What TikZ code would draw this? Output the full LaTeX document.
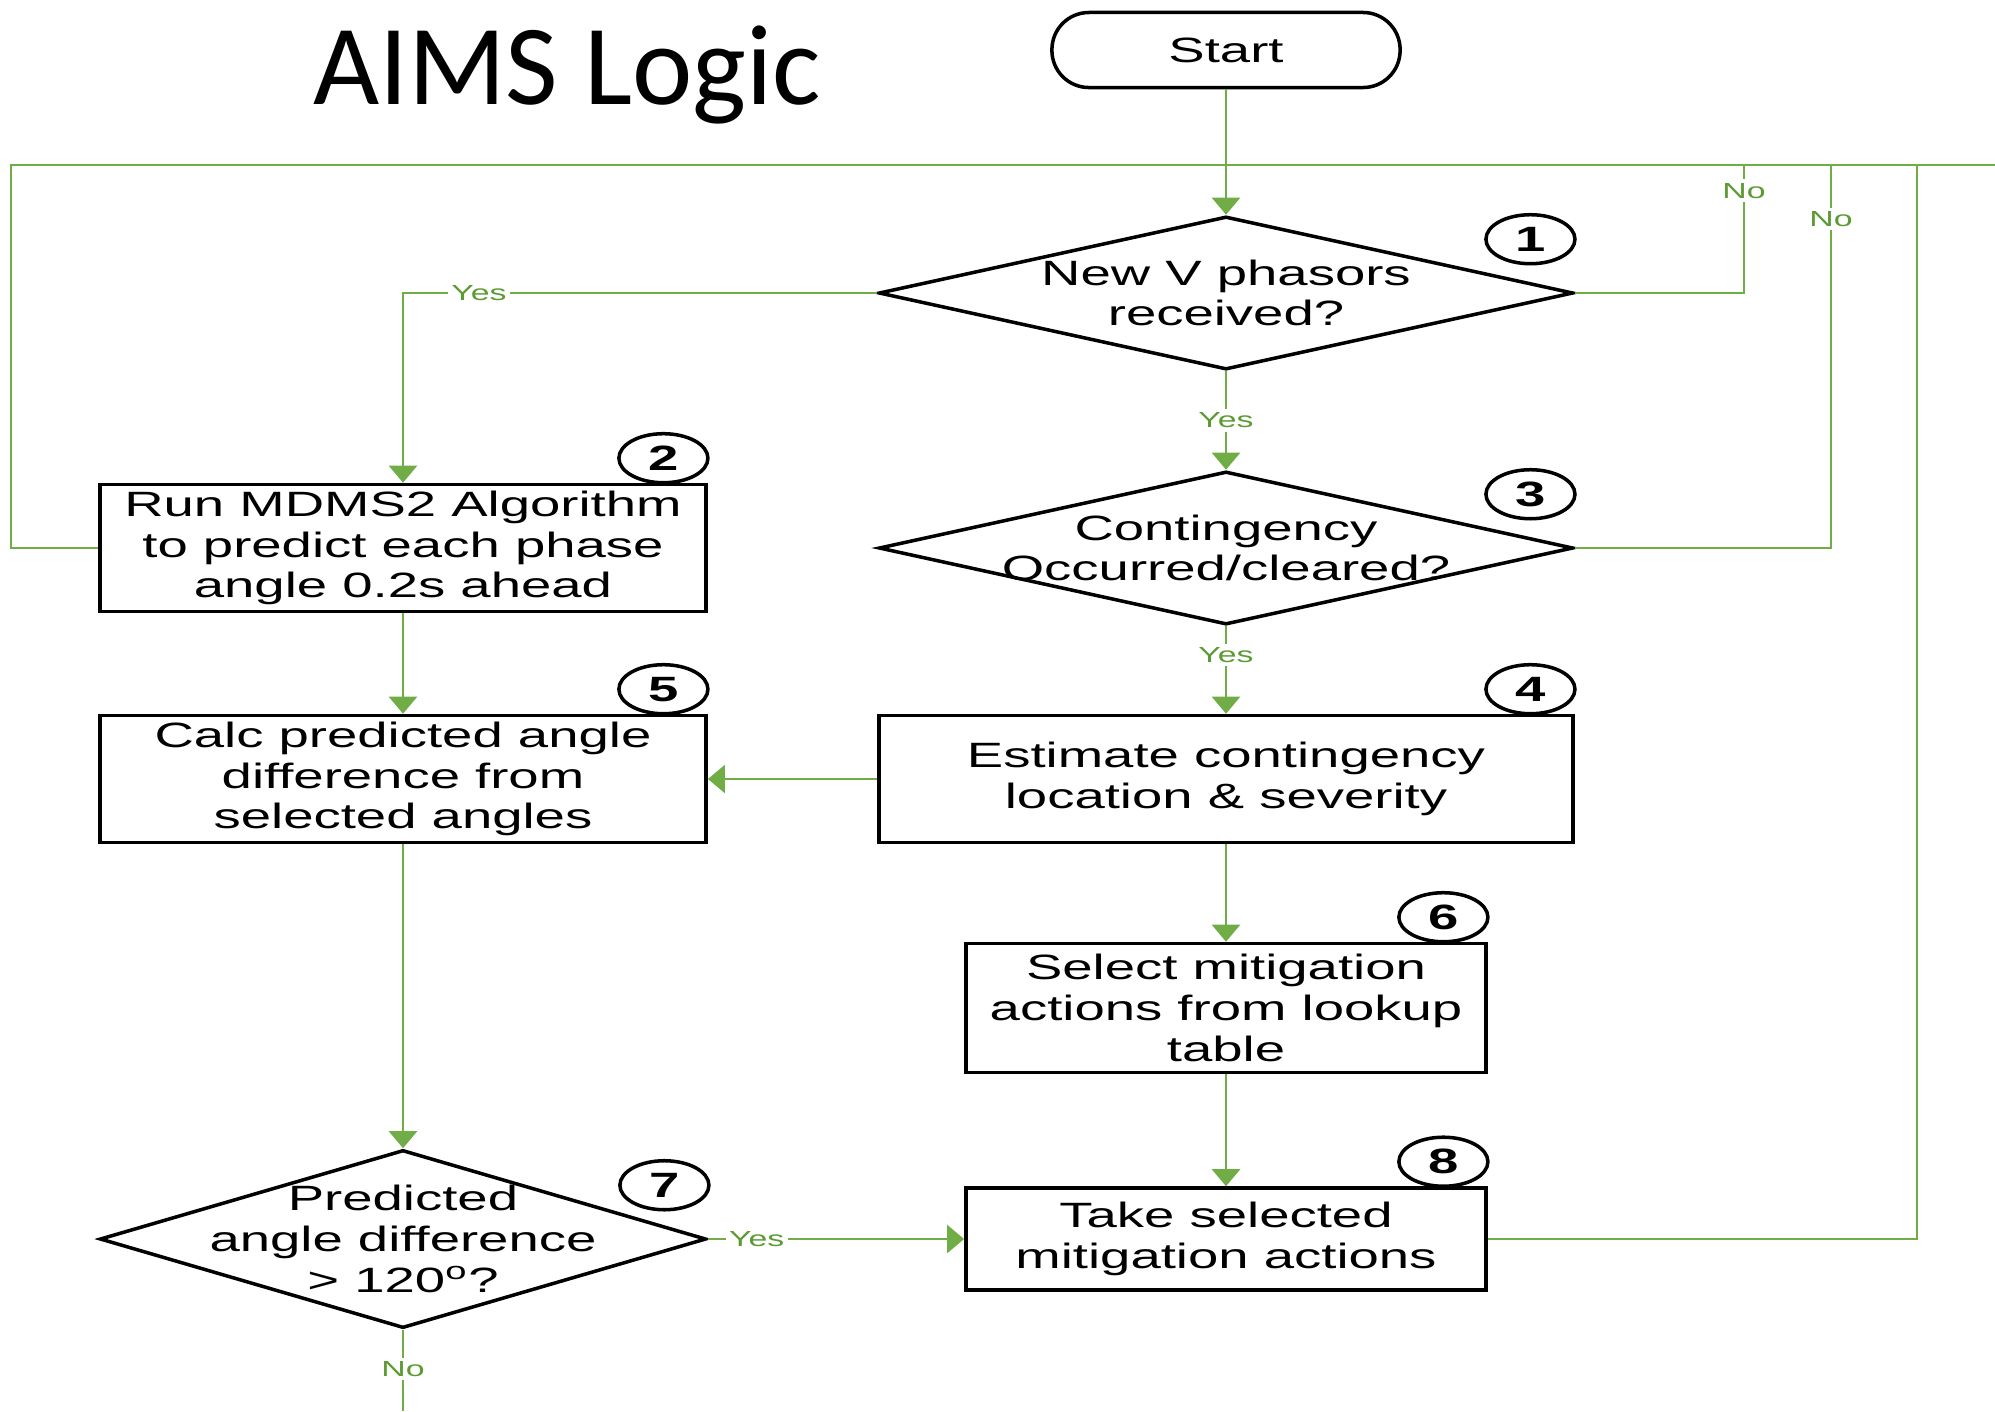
\documentclass[tikz,border=0pt]{standalone}
\usepackage{fontspec}
\setmainfont[FakeStretch=1.55]{Liberation Sans}
\newfontfamily\titlefont{Carlito}
\usetikzlibrary{shapes.geometric,arrows.meta,positioning}
\definecolor{aimsgreen}{HTML}{70AD47}
\definecolor{labgreen}{HTML}{5C9A33}

\begin{document}
\begin{tikzpicture}[x=0.01cm,y=-0.01cm,
  terminal/.style={draw,line width=1pt,inner sep=0pt,rounded corners=0.37cm,font=\fontsize{10}{11.6}\selectfont},
  box/.style={draw,line width=1pt,inner sep=0pt,align=center,font=\fontsize{10}{11.6}\selectfont,execute at begin node={\rule{0pt}{9.5pt}}},
  decision/.style={draw,diamond,line width=1pt,inner sep=0pt},
  dtext/.style={align=center,inner sep=0pt,font=\fontsize{10}{11.6}\selectfont},
  num/.style={draw,ellipse,fill=white,line width=1pt,minimum width=0.89cm,minimum height=0.49cm,inner sep=0pt,font=\bfseries\fontsize{10}{10}\selectfont},
  line/.style={draw=aimsgreen,line width=0.7pt},
  flow/.style={line,-{Triangle[width=0.28cm,length=0.17cm]}},
  lbl/.style={fill=white,inner sep=1pt,text=labgreen,font=\fontsize{6.2}{7}\selectfont}]

\useasboundingbox (0,0) rectangle (1995,1411);

% title
\node[anchor=base,inner sep=0pt,font=\titlefont\fontsize{32.5}{40}\selectfont] (title) at (567,104) {AIMS Logic};

% start and first column
\node[terminal,minimum width=3.48cm,minimum height=0.75cm] (start) at (1226,50) {Start};

\node[decision,minimum width=6.94cm,minimum height=1.53cm] (q1) at (1226,293) {};
\node[dtext] (t1) at (q1) {New V phasors\\received?};

\node[decision,minimum width=6.94cm,minimum height=1.53cm] (q3) at (1226,548) {};
\node[dtext] (t3) at (q3) {Contingency\\Occurred/cleared?};

\node[box,minimum width=6.94cm,minimum height=1.27cm] (b4) at (1226,779) {Estimate contingency\\location \& severity};

\node[box,minimum width=5.2cm,minimum height=1.29cm] (b6) at (1226,1008) {Select mitigation\\actions from lookup\\table};

\node[box,minimum width=5.2cm,minimum height=1.02cm] (b8) at (1226,1239) {Take selected\\mitigation actions};

% left column
\node[box,minimum width=6.06cm,minimum height=1.27cm] (b2) at (403,548) {Run MDMS2 Algorithm\\to predict each phase\\angle 0.2s ahead};

\node[box,minimum width=6.06cm,minimum height=1.27cm] (b5) at (403,779) {Calc predicted angle\\difference from\\selected angles};

\node[decision,minimum width=6.06cm,minimum height=1.78cm] (q7) at (403,1239) {};
\node[dtext] (t7) at (q7) {Predicted\\angle difference\\> 120\textsuperscript{o}?};

% step numbers
\node[num,xshift=-0.445cm,yshift=-0.245cm] (n1) at (q1.east |- q1.north) {1};
\node[num,xshift=-0.445cm,yshift=0.245cm] (n2) at (b2.north east) {2};
\node[num,xshift=-0.445cm,yshift=-0.245cm] (n3) at (q3.east |- q3.north) {3};
\node[num,xshift=-0.445cm,yshift=0.245cm] (n4) at (b4.north east) {4};
\node[num,xshift=-0.445cm,yshift=0.245cm] (n5) at (b5.north east) {5};
\node[num,xshift=-0.445cm,yshift=0.245cm] (n6) at (b6.north east) {6};
\node[num,xshift=-0.435cm,yshift=-0.37cm] (n7) at (q7.east |- q7.north) {7};
\node[num,xshift=-0.445cm,yshift=0.245cm] (n8) at (b8.north east) {8};

% loop back line
\coordinate (loopL) at (11,165);
\coordinate (loopR) at (1995,165);
\coordinate (no1) at (1744,165);
\coordinate (no3) at (1831,165);
\coordinate (back8) at (1917,165);
\coordinate (endno) at (403,1411);

\draw[line] (b2.west) -| (loopL) -- (loopR);
\draw[line] (q1.east) -| node[lbl,pos=0.9] {No} (no1);
\draw[line] (q3.east) -| node[lbl,pos=0.93] {No} (no3);
\draw[line] (b8.east) -| (back8);

% flow
\draw[flow] (start.south) -- (q1.north);
\draw[flow] (q1.west) -| node[lbl,pos=0.42] {Yes} (b2.north);
\draw[flow] (q1.south) -- node[lbl,pos=0.5] {Yes} (q3.north);
\draw[flow] (q3.south) -- node[lbl,pos=0.33] {Yes} (b4.north);
\draw[flow] (b2.south) -- (b5.north);
\draw[flow] (b4.west) -- (b5.east);
\draw[flow] (b4.south) -- (b6.north);
\draw[flow] (b6.south) -- (b8.north);
\draw[flow] (b5.south) -- (q7.north);
\draw[flow] (q7.east) -- node[lbl,pos=0.19] {Yes} (b8.west);
\draw[line] (q7.south) -- node[lbl,pos=0.48] {No} (endno);

\end{tikzpicture}
\end{document}
